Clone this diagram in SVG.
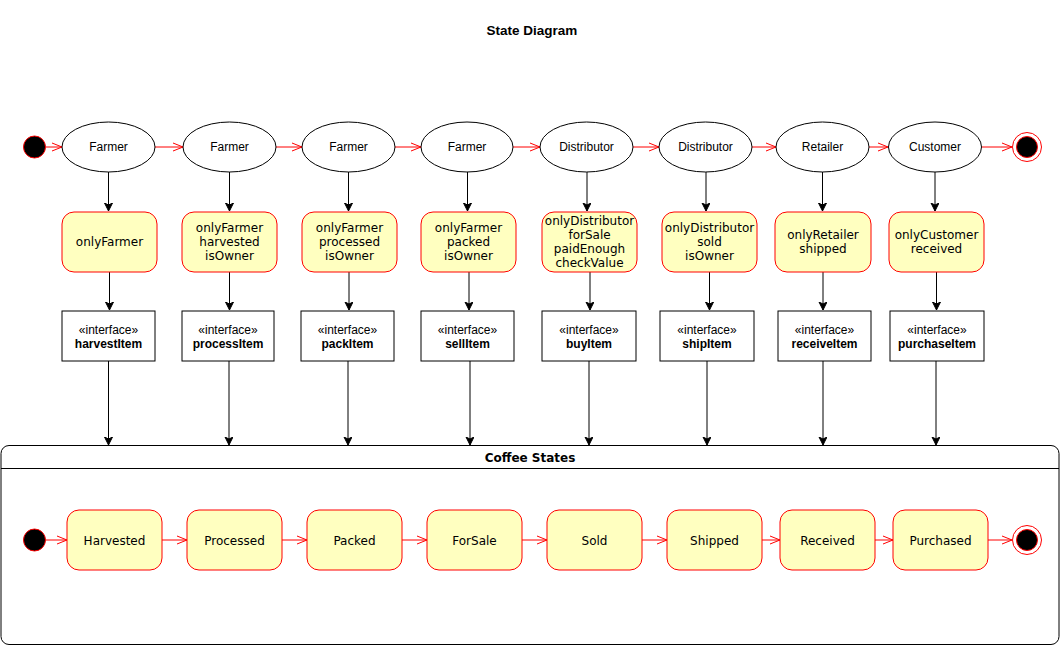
<svg xmlns="http://www.w3.org/2000/svg" width="1061" height="646" viewBox="0 0 1061 646">
<style>
.ell{fill:#fff;stroke:#000;stroke-width:1}
.guard{fill:#FFFFC0;stroke:#FF0000;stroke-width:1}
.iface{fill:#fff;stroke:#000;stroke-width:1}
.state{fill:#FFFFC0;stroke:#FF0000;stroke-width:1}
.lbl{font-family:"Liberation Sans",Arial,sans-serif;font-size:12px;fill:#000;text-anchor:middle;dominant-baseline:central}
.bold{font-weight:bold}
.dv{font-family:"DejaVu Sans",Verdana,sans-serif;font-size:12px;fill:#000;text-anchor:middle;dominant-baseline:central}
.red{stroke:#FF0000;stroke-width:1;fill:none}
.blk{stroke:#000;stroke-width:1;fill:none}
</style>
<defs>
<marker id="open" markerWidth="12" markerHeight="10" refX="11" refY="5" orient="auto" markerUnits="userSpaceOnUse">
<path d="M1,1 L11,5 L1,9" fill="none" stroke="#FF0000" stroke-width="1"/>
</marker>
<marker id="block" markerWidth="10" markerHeight="10" refX="8" refY="4" orient="auto" markerUnits="userSpaceOnUse">
<path d="M0,0 L8,4 L0,8 L2,4 z" fill="#000" stroke="#000" stroke-width="1"/>
</marker>
</defs>
<rect width="1061" height="646" fill="#fff"/>
<text x="532" y="30" class="lbl bold" style="font-size:13.5px">State Diagram</text>

<g id="connectors">
<path class="red" d="M46,147 L62,147" marker-end="url(#open)"/>
<path class="red" d="M155,147 L183,147" marker-end="url(#open)"/>
<path class="red" d="M276,147 L302,147" marker-end="url(#open)"/>
<path class="red" d="M395,147 L421,147" marker-end="url(#open)"/>
<path class="red" d="M513,147 L540,147" marker-end="url(#open)"/>
<path class="red" d="M633,147 L659,147" marker-end="url(#open)"/>
<path class="red" d="M752,147 L776,147" marker-end="url(#open)"/>
<path class="red" d="M869,147 L888,147" marker-end="url(#open)"/>
<path class="red" d="M982,147 L1012,147" marker-end="url(#open)"/>
<path class="blk" d="M108.5,172 L108.5,211" marker-end="url(#block)"/>
<path class="blk" d="M229.5,172 L229.5,211" marker-end="url(#block)"/>
<path class="blk" d="M348.5,172 L348.5,211" marker-end="url(#block)"/>
<path class="blk" d="M467.5,172 L467.5,211" marker-end="url(#block)"/>
<path class="blk" d="M587,172 L587,211" marker-end="url(#block)"/>
<path class="blk" d="M706,172 L706,211" marker-end="url(#block)"/>
<path class="blk" d="M822.5,172 L822.5,211" marker-end="url(#block)"/>
<path class="blk" d="M935,172 L935,211" marker-end="url(#block)"/>
<path class="blk" d="M109.5,272 L109.5,310" marker-end="url(#block)"/>
<path class="blk" d="M229.5,272 L229.5,310" marker-end="url(#block)"/>
<path class="blk" d="M349,272 L349,310" marker-end="url(#block)"/>
<path class="blk" d="M469,272 L469,310" marker-end="url(#block)"/>
<path class="blk" d="M590,272 L590,310" marker-end="url(#block)"/>
<path class="blk" d="M709.5,272 L709.5,310" marker-end="url(#block)"/>
<path class="blk" d="M823,272 L823,310" marker-end="url(#block)"/>
<path class="blk" d="M936.5,272 L936.5,310" marker-end="url(#block)"/>
<path class="blk" d="M108.5,361 L108.5,445" marker-end="url(#block)"/>
<path class="blk" d="M229,361 L229,445" marker-end="url(#block)"/>
<path class="blk" d="M348,361 L348,445" marker-end="url(#block)"/>
<path class="blk" d="M470,361 L470,445" marker-end="url(#block)"/>
<path class="blk" d="M589,361 L589,445" marker-end="url(#block)"/>
<path class="blk" d="M707,361 L707,445" marker-end="url(#block)"/>
<path class="blk" d="M823,361 L823,445" marker-end="url(#block)"/>
<path class="blk" d="M936,361 L936,445" marker-end="url(#block)"/>
</g>

<g id="start-top"><circle cx="34.5" cy="147" r="11" fill="#000" stroke="#FF0000" stroke-width="1"/></g>
<g id="actor1"><ellipse class="ell" cx="108.5" cy="147" rx="46.5" ry="25"/><text class="lbl" x="108.5" y="147">Farmer</text></g>
<g id="actor2"><ellipse class="ell" cx="229.5" cy="147" rx="46.5" ry="25"/><text class="lbl" x="229.5" y="147">Farmer</text></g>
<g id="actor3"><ellipse class="ell" cx="348.5" cy="147" rx="46.5" ry="25"/><text class="lbl" x="348.5" y="147">Farmer</text></g>
<g id="actor4"><ellipse class="ell" cx="467" cy="147" rx="46" ry="25"/><text class="lbl" x="467" y="147">Farmer</text></g>
<g id="actor5"><ellipse class="ell" cx="586.5" cy="147" rx="46.5" ry="25"/><text class="lbl" x="586.5" y="147">Distributor</text></g>
<g id="actor6"><ellipse class="ell" cx="705.5" cy="147" rx="46.5" ry="25"/><text class="lbl" x="705.5" y="147">Distributor</text></g>
<g id="actor7"><ellipse class="ell" cx="822.5" cy="147" rx="46.5" ry="25"/><text class="lbl" x="822.5" y="147">Retailer</text></g>
<g id="actor8"><ellipse class="ell" cx="935" cy="147" rx="46.5" ry="25"/><text class="lbl" x="935" y="147">Customer</text></g>
<g id="end-top"><circle cx="1027" cy="147" r="14.5" fill="#fff" stroke="#FF0000" stroke-width="1"/><circle cx="1027" cy="147" r="10.5" fill="#000" stroke="#FF0000" stroke-width="1"/></g>

<g id="guard1"><rect class="guard" x="62" y="212" width="95" height="60" rx="12"/><text class="dv" x="109.5" y="242">onlyFarmer</text></g>
<g id="guard2"><rect class="guard" x="182" y="212" width="95" height="60" rx="12"/><text class="dv" x="229.5" y="228">onlyFarmer</text><text class="dv" x="229.5" y="242">harvested</text><text class="dv" x="229.5" y="256">isOwner</text></g>
<g id="guard3"><rect class="guard" x="302" y="212" width="95" height="60" rx="12"/><text class="dv" x="349.5" y="228">onlyFarmer</text><text class="dv" x="349.5" y="242">processed</text><text class="dv" x="349.5" y="256">isOwner</text></g>
<g id="guard4"><rect class="guard" x="421" y="212" width="95" height="60" rx="12"/><text class="dv" x="468.5" y="228">onlyFarmer</text><text class="dv" x="468.5" y="242">packed</text><text class="dv" x="468.5" y="256">isOwner</text></g>
<g id="guard5"><rect class="guard" x="542" y="212" width="95" height="60" rx="12"/><text class="dv" x="589.5" y="221">onlyDistributor</text><text class="dv" x="589.5" y="235">forSale</text><text class="dv" x="589.5" y="249">paidEnough</text><text class="dv" x="589.5" y="263">checkValue</text></g>
<g id="guard6"><rect class="guard" x="662" y="212" width="95" height="60" rx="12"/><text class="dv" x="709.5" y="228">onlyDistributor</text><text class="dv" x="709.5" y="242">sold</text><text class="dv" x="709.5" y="256">isOwner</text></g>
<g id="guard7"><rect class="guard" x="775" y="212" width="96" height="60" rx="12"/><text class="dv" x="823" y="235">onlyRetailer</text><text class="dv" x="823" y="249">shipped</text></g>
<g id="guard8"><rect class="guard" x="889" y="212" width="95" height="60" rx="12"/><text class="dv" x="936.5" y="235">onlyCustomer</text><text class="dv" x="936.5" y="249">received</text></g>

<g id="if1"><rect class="iface" x="62" y="311" width="93" height="50"/><text class="lbl" x="108.5" y="330">«interface»</text><text class="lbl bold" x="108.5" y="344">harvestItem</text></g>
<g id="if2"><rect class="iface" x="182" y="311" width="92" height="50"/><text class="lbl" x="228" y="330">«interface»</text><text class="lbl bold" x="228" y="344">processItem</text></g>
<g id="if3"><rect class="iface" x="301" y="311" width="93" height="50"/><text class="lbl" x="347.5" y="330">«interface»</text><text class="lbl bold" x="347.5" y="344">packItem</text></g>
<g id="if4"><rect class="iface" x="421" y="311" width="93" height="50"/><text class="lbl" x="467.5" y="330">«interface»</text><text class="lbl bold" x="467.5" y="344">sellItem</text></g>
<g id="if5"><rect class="iface" x="542" y="311" width="94" height="50"/><text class="lbl" x="589" y="330">«interface»</text><text class="lbl bold" x="589" y="344">buyItem</text></g>
<g id="if6"><rect class="iface" x="660" y="311" width="94" height="50"/><text class="lbl" x="707" y="330">«interface»</text><text class="lbl bold" x="707" y="344">shipItem</text></g>
<g id="if7"><rect class="iface" x="778" y="311" width="93" height="50"/><text class="lbl" x="824.5" y="330">«interface»</text><text class="lbl bold" x="824.5" y="344">receiveItem</text></g>
<g id="if8"><rect class="iface" x="890" y="311" width="94" height="50"/><text class="lbl" x="937" y="330">«interface»</text><text class="lbl bold" x="937" y="344">purchaseItem</text></g>

<g id="coffee-states">
<rect x="1" y="445.5" width="1058" height="199" rx="8" fill="#fff" stroke="#000" stroke-width="1"/>
<line x1="1" y1="468.5" x2="1059" y2="468.5" stroke="#000" stroke-width="1"/>
<text class="dv bold" x="530" y="458">Coffee States</text>
</g>

<g id="inner-connectors">
<path class="red" d="M45.5,540 L67,540" marker-end="url(#open)"/>
<path class="red" d="M162,540 L187,540" marker-end="url(#open)"/>
<path class="red" d="M282,540 L307,540" marker-end="url(#open)"/>
<path class="red" d="M402,540 L427,540" marker-end="url(#open)"/>
<path class="red" d="M522,540 L547,540" marker-end="url(#open)"/>
<path class="red" d="M642,540 L667,540" marker-end="url(#open)"/>
<path class="red" d="M762,540 L780,540" marker-end="url(#open)"/>
<path class="red" d="M875,540 L893,540" marker-end="url(#open)"/>
<path class="red" d="M988,540 L1012,540" marker-end="url(#open)"/>
</g>

<g id="start-bottom"><circle cx="34.5" cy="540" r="11" fill="#000" stroke="#FF0000" stroke-width="1"/></g>
<g id="s-harvested"><rect class="state" x="67" y="510" width="95" height="60" rx="12"/><text class="dv" x="114.5" y="540.5">Harvested</text></g>
<g id="s-processed"><rect class="state" x="187" y="510" width="95" height="60" rx="12"/><text class="dv" x="234.5" y="540.5">Processed</text></g>
<g id="s-packed"><rect class="state" x="307" y="510" width="95" height="60" rx="12"/><text class="dv" x="354.5" y="540.5">Packed</text></g>
<g id="s-forsale"><rect class="state" x="427" y="510" width="95" height="60" rx="12"/><text class="dv" x="474.5" y="540.5">ForSale</text></g>
<g id="s-sold"><rect class="state" x="547" y="510" width="95" height="60" rx="12"/><text class="dv" x="594.5" y="540.5">Sold</text></g>
<g id="s-shipped"><rect class="state" x="667" y="510" width="95" height="60" rx="12"/><text class="dv" x="714.5" y="540.5">Shipped</text></g>
<g id="s-received"><rect class="state" x="780" y="510" width="95" height="60" rx="12"/><text class="dv" x="827.5" y="540.5">Received</text></g>
<g id="s-purchased"><rect class="state" x="893" y="510" width="95" height="60" rx="12"/><text class="dv" x="940.5" y="540.5">Purchased</text></g>
<g id="end-bottom"><circle cx="1027" cy="540" r="14.5" fill="#fff" stroke="#FF0000" stroke-width="1"/><circle cx="1027" cy="540" r="10.5" fill="#000" stroke="#FF0000" stroke-width="1"/></g>
</svg>
